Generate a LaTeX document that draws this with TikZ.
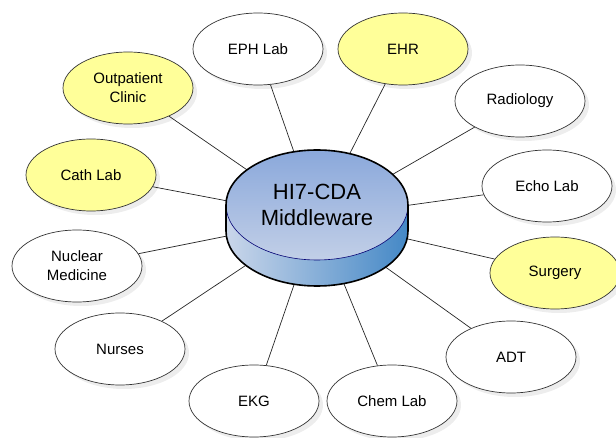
\documentclass[tikz,border=0pt]{standalone}
\usepackage{fontspec}
\setmainfont{Liberation Sans}
\usetikzlibrary{shapes.geometric,shadows}
\definecolor{labyellow}{RGB}{255,255,153}
\definecolor{cyltop}{RGB}{138,168,219}
\definecolor{cyltopl}{RGB}{194,207,231}
\definecolor{cylside}{RGB}{68,136,198}
\definecolor{cylsidem}{RGB}{165,189,226}
\definecolor{cylsidel}{RGB}{202,214,234}
\begin{document}
\begin{tikzpicture}[x=1pt,y=-1pt,
  sys/.style={ellipse, draw=black!80, line width=0.7pt, fill=white,
    minimum width=130pt, minimum height=72pt, inner sep=0pt, align=center,
    font=\fontsize{15}{19}\selectfont,
    drop shadow={shadow xshift=4pt, shadow yshift=-4pt, fill=black!14}},
  hl/.style={sys, fill=labyellow},
  link/.style={draw=black!85, line width=0.7pt}]
  \useasboundingbox (0,0) rectangle (616,438);
  \node[sys] (eph) at (258,49) {EPH Lab};
  \node[hl] (ehr) at (403,49) {EHR};
  \node[hl] (outpat) at (128,88) {Outpatient\\Clinic};
  \node[sys] (radio) at (520,101) {Radiology};
  \node[hl] (cath) at (91,175) {Cath Lab};
  \node[sys] (echo) at (547,186) {Echo Lab};
  \node[sys] (nuclear) at (77,266) {Nuclear\\Medicine};
  \node[hl] (surgery) at (555,273) {Surgery};
  \node[sys] (nurses) at (120,349) {Nurses};
  \node[sys] (adt) at (511,357) {ADT};
  \node[sys] (ekg) at (254,401) {EKG};
  \node[sys] (chem) at (392,401) {Chem Lab};
  \node[ellipse, minimum width=182pt, minimum height=136pt] (hub) at (317,218) {};
  \foreach \s in {eph,ehr,outpat,radio,cath,echo,nuclear,surgery,nurses,adt,ekg,chem}
    \draw[link] (\s) -- (hub);
  \shade[left color=cylsidel, middle color=cylsidem, right color=cylside]
    (226,205) -- (226,231) arc[start angle=180, end angle=360, x radius=91pt, y radius=55pt]
    -- (408,205) arc[start angle=0, end angle=-180, x radius=91pt, y radius=55pt] -- cycle;
  \shade[top color=cyltop, bottom color=cyltopl] (317,205) ellipse[x radius=91pt, y radius=55pt];
  \draw[draw=blue!45!black, line width=0.6pt]
    (226,205) arc[start angle=180, end angle=360, x radius=91pt, y radius=55pt];
  \draw[line width=1.6pt, line join=round]
    (226,205) -- (226,231) arc[start angle=180, end angle=360, x radius=91pt, y radius=55pt]
    -- (408,205) arc[start angle=0, end angle=180, x radius=91pt, y radius=55pt] -- cycle;
  \node[align=center, font=\fontsize{22}{26}\selectfont] (mw) at (317,205) {HI7-CDA\\Middleware};
\end{tikzpicture}
\end{document}
